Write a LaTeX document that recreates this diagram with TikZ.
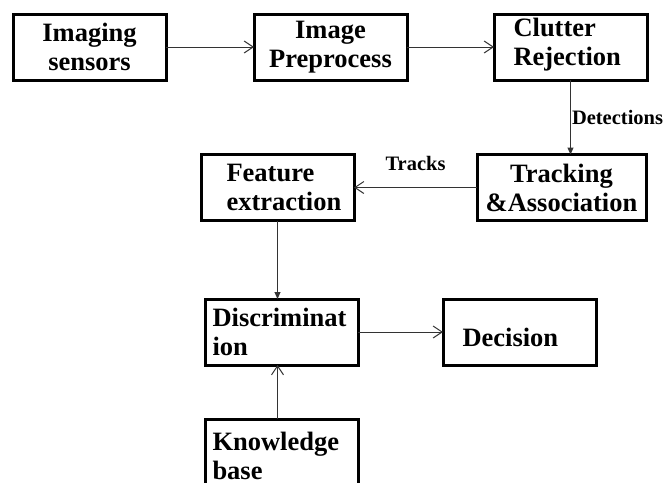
\documentclass[tikz,border=0pt]{standalone}
\usepackage{fontspec}
\setmainfont{Liberation Serif}
\usetikzlibrary{positioning}
\usetikzlibrary{arrows.meta}

\begin{document}
\begin{tikzpicture}[x=1pt, y=1pt,
    blk/.style={draw, line width=3pt, minimum width=153pt, minimum height=66pt, inner sep=2pt, outer sep=0pt,
                font=\fontsize{26.5}{29}\selectfont\bfseries},
    lbl/.style={font=\fontsize{20.5}{23}\selectfont\bfseries, inner sep=1pt, text=black},
    arr/.style={-{Straight Barb[length=9pt, width=12pt]}, line width=1pt, black!80},
    farr/.style={-{Triangle[length=7pt, width=6pt]}, line width=1pt, black!80}]
        \clip (0,0) rectangle (668,-482);
        % nodes %
        \node[blk, align=center] (sens) at (89.5,-47) {Imaging\\sensors};
        \node[blk, align=center, right=88pt of sens] (prep) {Image\\Preprocess};
        \node[blk, text width=114pt, align=left, text depth=39pt, right=87pt of prep] (clut) {Clutter\\Rejection};
        \node[blk, minimum width=169pt, align=center, below=74.5pt of clut, xshift=-9pt] (trk) {Tracking\\\&Association};
        \node[blk, text width=102pt, align=left, left=123pt of trk] (feat) {Feature\\extraction};
        \node[blk, text width=138pt, align=left, below=78.5pt of feat, xshift=4pt] (disc) {Discriminat\\ion};
        \node[blk, text width=114pt, align=left, text height=29pt, right=85pt of disc] (dec) {Decision};
        \node[blk, text width=138pt, align=left, text depth=22pt, below=54pt of disc] (know) {Knowledge\\base};

        % edges %
        \draw[arr] (sens) -- (prep);
        \draw[arr] (prep) -- (clut);
        \draw[farr] (clut.south) -- node[lbl, right] {Detections} (clut.south |- trk.north);
        \draw[arr] (trk) -- node[lbl, above=15pt] {Tracks} (feat);
        \draw[farr] (feat.south) -- (feat.south |- disc.north);
        \draw[arr] (disc) -- (dec);
        \draw[arr] (know.north -| feat.south) -- (disc.south -| feat.south);
\end{tikzpicture}
\end{document}
